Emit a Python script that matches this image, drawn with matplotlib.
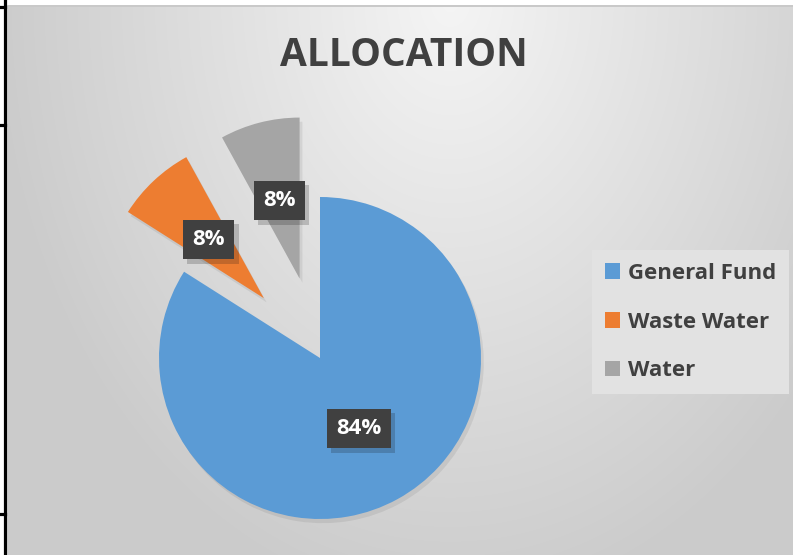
import numpy as np
import matplotlib.pyplot as plt
from matplotlib import patheffects as pe
from matplotlib.patches import Patch
from matplotlib.lines import Line2D

plt.rcParams['font.family'] = ['Open Sans', 'DejaVu Sans']

# data
labels = ['General Fund', 'Waste Water', 'Water']
values = [84, 8, 8]
colors = ['#5b9bd5', '#ed7d31', '#a5a5a5']
title = 'ALLOCATION'

W, H = 793, 555
fig = plt.figure(figsize=(W / 100, H / 100), dpi=100)
ax = fig.add_axes([0, 0, 1, 1])

# background gradient of the chart area (pixel coords, row 0 = top)
yy, xx = np.mgrid[0:H, 0:W]
d = np.sqrt(((xx - 450) / 450.0) ** 2 + (yy / 600.0) ** 2)
bg = 0.96 - 0.16 * np.clip(d, 0, 1)
bg[:, :8] = 1.0
bg[:5, :] = 1.0
bg[5:7, 8:] = 0.79
bg[5:, 7] = 0.85
ax.imshow(np.dstack([bg, bg, bg]), extent=(0, W, 0, H), origin='upper',
          zorder=0, interpolation='bilinear')

# pie (center and radius in pixels, y measured from bottom)
wedges, texts, autotexts = ax.pie(
    values, colors=colors, startangle=90, counterclock=False,
    center=(320, 197), radius=161, explode=[0, 82, 82],
    autopct=lambda p: '{:.0f}%'.format(p), pctdistance=0.5, frame=True,
    wedgeprops=dict(linewidth=0),
    textprops=dict(color='white', fontsize=16, fontweight='bold'))

for w in wedges:
    w.set_path_effects([pe.SimplePatchShadow(offset=(2, -3), shadow_rgbFace='black', alpha=0.07),
                        pe.Normal()])
    w.set_zorder(2)

for t in autotexts:
    t.set_bbox(dict(boxstyle='square,pad=0.42', fc='#404040', ec='none', lw=0))
    t.get_bbox_patch().set_path_effects([pe.SimplePatchShadow(offset=(3, -3), alpha=0.2),
                                         pe.Normal()])
    t.set_zorder(5)

ax.set_xlim(0, W)
ax.set_ylim(0, H)
ax.set_aspect('auto')
ax.axis('off')

# title
fig.text(404 / W, 1 - 56 / H, title, ha='center', va='center', fontsize=28,
         fontweight='bold', color='#404040')

# legend
handles = [Patch(facecolor=c, edgecolor='none') for c in colors]
leg = fig.legend(handles, labels, loc='upper left', bbox_to_anchor=(592 / W, 1 - 250 / H),
                 frameon=True, fancybox=False, framealpha=1, facecolor='#e2e2e2',
                 edgecolor='none', handlelength=0.7, handleheight=0.7, handletextpad=0.35,
                 labelspacing=1.25, borderpad=0.58, borderaxespad=0,
                 prop=dict(size=16, weight='bold'), labelcolor='#404040')

# black frame strip on the left
fig.add_artist(Line2D([4.5 / W, 4.5 / W], [0, 1], color='black', lw=2.3))
for yp in [7, 125, 514]:
    fig.add_artist(Line2D([0, 5 / W], [1 - yp / H, 1 - yp / H], color='black', lw=2.3))

fig.savefig('out.png', dpi=100)
